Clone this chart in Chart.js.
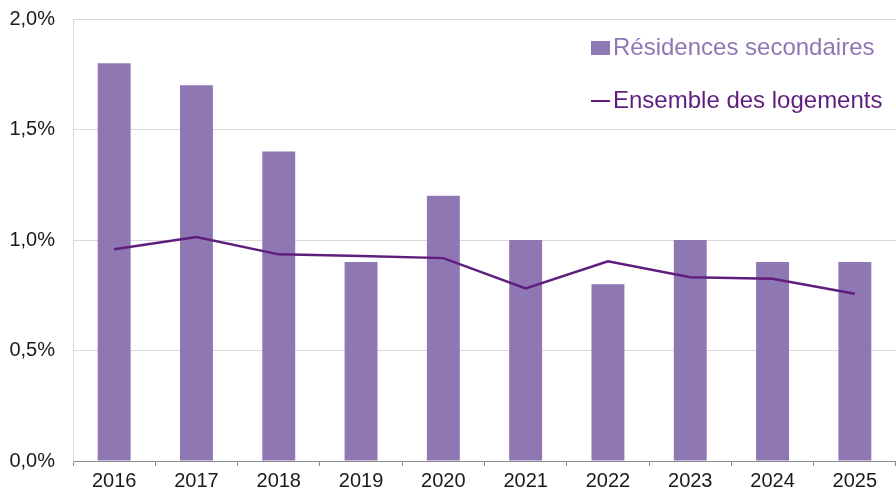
<!DOCTYPE html>
<html>
<head>
<meta charset="utf-8">
<script src="https://cdn.jsdelivr.net/npm/chart.js@4"></script>
<style>
  html, body { margin: 0; padding: 0; background: #fff; }
  #wrap { width: 896px; height: 494px; }
</style>
</head>
<body>
<div id="wrap"><canvas id="grafico" width="896" height="494"></canvas></div>
<script>
const annees = ["2016", "2017", "2018", "2019", "2020", "2021", "2022", "2023", "2024", "2025"];
const residencesSecondaires = [1.8, 1.7, 1.4, 0.9, 1.2, 1.0, 0.8, 1.0, 0.9, 0.9];
const ensembleLogements = [0.958, 1.014, 0.935, 0.928, 0.918, 0.781, 0.904, 0.831, 0.825, 0.757];
const yTicks = ["0,0%", "0,5%", "1,0%", "1,5%", "2,0%"];

const couleurBarre = "#8E77B3";
const couleurLigne = "#5F1E7D";
const police = "'Liberation Sans', Arial, sans-serif";

// Legende dessinee dans la zone du graphique, en haut a droite
const legendeInterne = {
  id: "legendeInterne",
  afterDraw(chart) {
    const ctx = chart.ctx;
    const x = 591;
    ctx.save();
    ctx.font = "24px " + police;
    ctx.textBaseline = "middle";
    // barres
    ctx.fillStyle = couleurBarre;
    ctx.fillRect(x, 41, 19, 14);
    ctx.fillText(chart.data.datasets[1].label, x + 22, 48);
    // ligne
    ctx.strokeStyle = couleurLigne;
    ctx.lineWidth = 2;
    ctx.beginPath();
    ctx.moveTo(x, 101);
    ctx.lineTo(x + 19, 101);
    ctx.stroke();
    ctx.fillStyle = couleurLigne;
    ctx.fillText(chart.data.datasets[0].label, x + 22, 101);
    ctx.restore();
  }
};

new Chart(document.getElementById("grafico").getContext("2d"), {
  data: {
    labels: annees,
    datasets: [
      {
        type: "line",
        label: "Ensemble des logements",
        data: ensembleLogements,
        borderColor: couleurLigne,
        backgroundColor: couleurLigne,
        borderWidth: 2.5,
        pointRadius: 0,
        tension: 0,
        order: 0
      },
      {
        type: "bar",
        label: "Résidences secondaires",
        data: residencesSecondaires,
        backgroundColor: couleurBarre,
        categoryPercentage: 1,
        barPercentage: 0.4,
        order: 1
      }
    ]
  },
  options: {
    responsive: false,
    animation: false,
    layout: { padding: { top: 0, right: 0, left: 0, bottom: 0 } },
    plugins: { legend: { display: false }, tooltip: { enabled: false } },
    scales: {
      x: {
        offset: true,
        grid: {
          offset: true,
          drawOnChartArea: false,
          drawTicks: true,
          tickLength: 5,
          color: "#8C8C8C"
        },
        border: { color: "#8C8C8C", width: 1 },
        ticks: {
          color: "#1A1A1A",
          font: { family: police, size: 20 },
          padding: 3,
          maxRotation: 0
        },
        afterFit(scale) { scale.height = 33; }
      },
      y: {
        min: 0,
        max: 2,
        grid: { color: "#D9D9D9", drawTicks: false },
        border: { color: "#D9D9D9", width: 1 },
        ticks: {
          stepSize: 0.5,
          color: "#1A1A1A",
          font: { family: police, size: 20 },
          padding: 18,
          callback: (v) => yTicks[Math.round(v / 0.5)]
        },
        afterFit(scale) {
          scale.width = 73;
          scale.paddingTop = 19;
        }
      }
    }
  },
  plugins: [legendeInterne]
});
</script>
</body>
</html>
